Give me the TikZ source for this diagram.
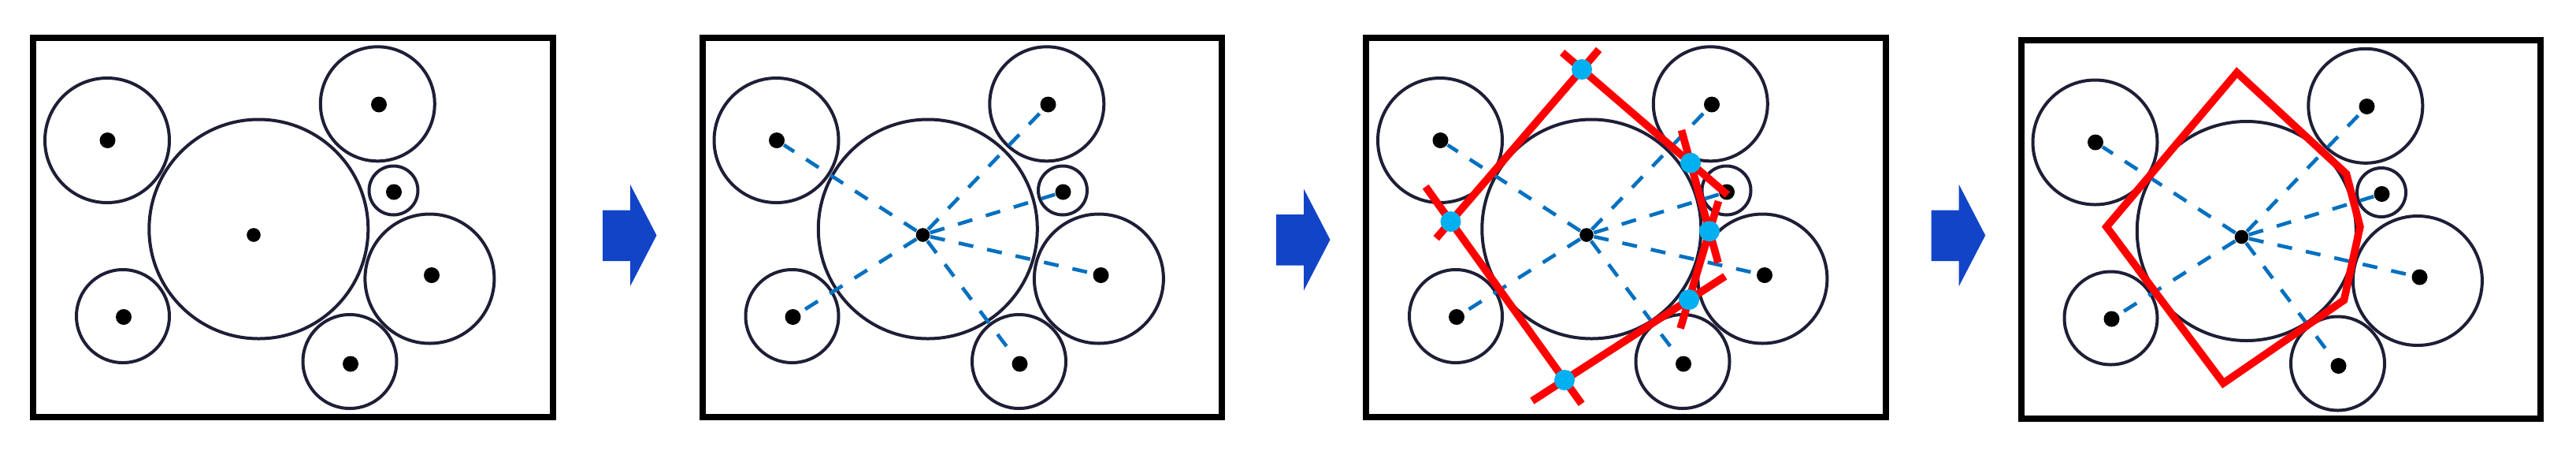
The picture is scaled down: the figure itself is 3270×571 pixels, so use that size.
\documentclass[tikz,border=0pt]{standalone}
\usetikzlibrary{calc}
\definecolor{ringc}{RGB}{30,30,55}
\definecolor{dashc}{RGB}{0,112,192}
\definecolor{cyanc}{RGB}{0,176,240}
\definecolor{arrowc}{RGB}{18,68,200}
\definecolor{redc}{RGB}{255,0,0}
\tikzset{
  ring/.style={draw=ringc, line width=1pt},
  frame/.style={draw=black, line width=2pt},
  dotn/.style={circle, fill=black, inner sep=0pt, minimum size=5pt},
  cdot/.style={circle, fill=black, inner sep=0pt, minimum size=4.4pt},
  dashln/.style={draw=dashc, line width=1.15pt, dash pattern=on 4.75pt off 4.5pt},
  redln/.style={draw=redc, line width=2.4pt},
  redpoly/.style={draw=redc, line width=2.4pt, line join=miter},
  vtx/.style={circle, fill=cyanc, inner sep=0pt, minimum size=6.5pt},
  stepar/.style={fill=arrowc},
}
\newcommand{\bubbles}[1]{%
  \draw[ring] (136,178) circle[radius=79];
  \draw[ring] (328.3,290.5) circle[radius=139];
  \draw[ring] (479.3,131.8) circle[radius=72.5];
  \draw[ring] (499.5,241.5) circle[radius=31];
  \draw[ring] (545.4,353.5) circle[radius=82];
  \draw[ring] (444,458.5) circle[radius=59.5];
  \draw[ring] (156,401) circle[radius=59];
  \node[dotn] (#1a) at (136.5,178) {};
  \node[cdot] (#1c) at (322,298) {};
  \node[dotn] (#1t) at (481,132.5) {};
  \node[dotn] (#1s) at (500,243.5) {};
  \node[dotn] (#1r) at (548,349) {};
  \node[dotn] (#1m) at (445,461.5) {};
  \node[dotn] (#1l) at (157,402) {};
  \draw[frame] (42,48) rectangle (701.5,528.5);
}
\newcommand{\spokes}[1]{%
  \foreach \n in {a,t,s,r,m,l}{\draw[dashln] (#1c) -- (#1\n);}
}
\newcommand{\steparrow}[2]{%
  \fill[stepar] (#1,{#2-32}) -- ({#1+35},{#2-32}) -- ({#1+35},{#2-64.5})
    -- ({#1+68.5},#2) -- ({#1+35},{#2+64.5}) -- ({#1+35},{#2+32.5})
    -- (#1,{#2+32.5}) -- cycle;
}
\begin{document}
\begin{tikzpicture}[x=0.25pt, y=-0.25pt]
\useasboundingbox (0,0) rectangle (3270,571);

% panel 1
\begin{scope}
  \bubbles{p1}
\end{scope}

% panel 2
\begin{scope}[shift={(849.5,0)}]
  \bubbles{p2}
  \spokes{p2}
\end{scope}

% panel 3
\begin{scope}[shift={(1692,0)}]
  \bubbles{p3}
  \spokes{p3}
  \coordinate (T) at (316,88);
  \coordinate (Lf) at (149.5,281);
  \coordinate (B) at (294,482);
  \coordinate (R1) at (454,206.7);
  \coordinate (R2) at (478,293.3);
  \coordinate (R3) at (452,380);
\end{scope}
\draw[redln] ($(T)!-0.13!(Lf)$) -- ($(Lf)!-0.11!(T)$);
\draw[redln] ($(Lf)!-0.22!(B)$) -- ($(B)!-0.15!(Lf)$);
\draw[redln] ($(T)!-0.18!(R1)$) -- ($(R1)!-0.34!(T)$);
\draw[redln] ($(R1)!-0.48!(R2)$) -- ($(R2)!-0.46!(R1)$);
\draw[redln] ($(R2)!-0.44!(R3)$) -- ($(R3)!-0.42!(R2)$);
\draw[redln] ($(R3)!-0.29!(B)$) -- ($(B)!-0.26!(R3)$);
\node[vtx] (vT) at (T) {};
\node[vtx] (vLf) at (Lf) {};
\node[vtx] (vB) at (B) {};
\node[vtx] (vR1) at (R1) {};
\node[vtx] (vR2) at (R2) {};
\node[vtx] (vR3) at (R3) {};

% panel 4
\begin{scope}[shift={(2523.5,2.5)}]
  \bubbles{p4}
  \spokes{p4}
  \coordinate (q1) at (316,89.5);
  \coordinate (q2) at (455,218);
  \coordinate (q3) at (472.4,285.2);
  \coordinate (q4) at (452,378.1);
  \coordinate (q5) at (298.8,483.5);
  \coordinate (q6) at (150.5,285.2);
  \draw[redpoly] (q1) -- (q2) -- (q3) -- (q4) -- (q5) -- (q6) -- cycle;
\end{scope}

% arrows
\steparrow{765}{298.5}
\steparrow{1620}{304}
\steparrow{2451.7}{298.5}
\end{tikzpicture}
\end{document}
